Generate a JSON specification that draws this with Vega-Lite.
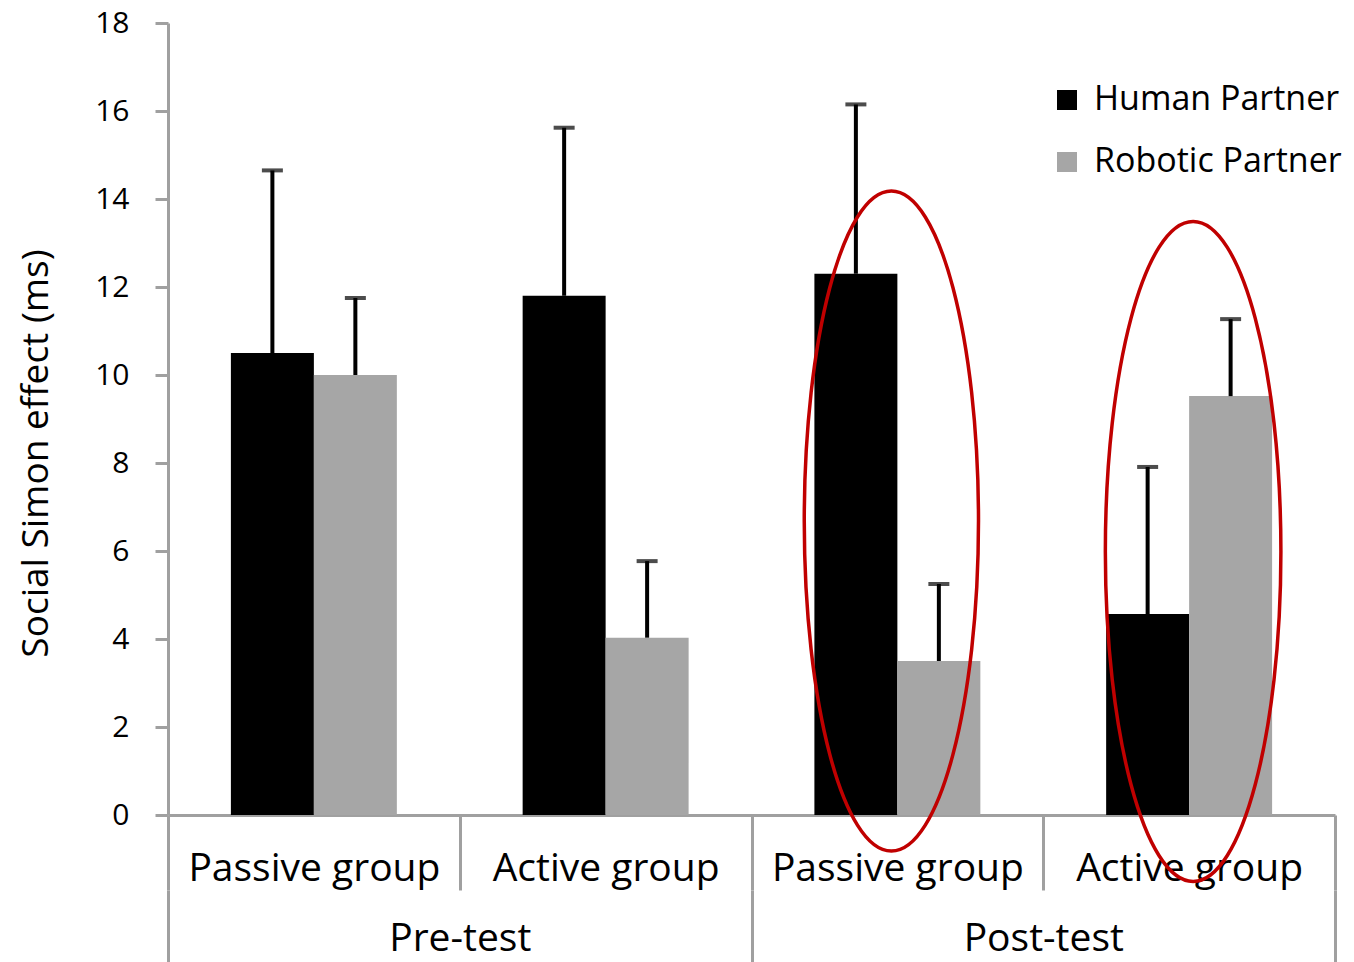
{
  "$schema": "https://vega.github.io/schema/vega-lite/v6.json",
  "width": 1167,
  "height": 792,
  "autosize": {"type": "none"},
  "padding": {"left": 168, "top": 23, "right": 19, "bottom": 147},
  "background": "white",
  "config": {
    "view": {"stroke": null},
    "font": "Open Sans"
  },
  "data": {
    "values": [
      {"phase": "Pre-test", "group": "Pre-test|Passive group", "partner": "Human Partner", "value": 10.5, "upper": 14.65},
      {"phase": "Pre-test", "group": "Pre-test|Passive group", "partner": "Robotic Partner", "value": 10.0, "upper": 11.75},
      {"phase": "Pre-test", "group": "Pre-test|Active group", "partner": "Human Partner", "value": 11.8, "upper": 15.62},
      {"phase": "Pre-test", "group": "Pre-test|Active group", "partner": "Robotic Partner", "value": 4.03, "upper": 5.77},
      {"phase": "Post-test", "group": "Post-test|Passive group", "partner": "Human Partner", "value": 12.3, "upper": 16.15},
      {"phase": "Post-test", "group": "Post-test|Passive group", "partner": "Robotic Partner", "value": 3.5, "upper": 5.25},
      {"phase": "Post-test", "group": "Post-test|Active group", "partner": "Human Partner", "value": 4.57, "upper": 7.91},
      {"phase": "Post-test", "group": "Post-test|Active group", "partner": "Robotic Partner", "value": 9.52, "upper": 11.27}
    ]
  },
  "layer": [
    {
      "layer": [
        {
          "mark": {"type": "bar"},
          "encoding": {
            "x": {
              "field": "group", "type": "nominal", "sort": null,
              "scale": {"paddingInner": 0, "paddingOuter": 0},
              "axis": {
                "orient": "bottom",
                "title": null,
                "labelExpr": "split(datum.label, '|')[1]",
                "labelAngle": 0,
                "labelFontSize": 39,
                "labelLimit": 0,
                "labelColor": "black",
                "labelBaseline": "alphabetic",
                "labelPadding": -10,
                "tickBand": "extent",
                "tickSize": 75,
                "tickColor": "#a0a0a0",
                "tickWidth": 3,
                "domainColor": "#a0a0a0",
                "domainWidth": 3,
                "grid": false
              }
            },
            "xOffset": {
              "field": "partner", "type": "nominal",
              "scale": {"paddingInner": 0, "paddingOuter": 0.758}
            },
            "y": {
              "field": "value", "type": "quantitative",
              "scale": {"domain": [0, 18], "nice": false},
              "axis": {
                "title": "Social Simon effect (ms)",
                "titleFontSize": 37,
                "titleFontWeight": "normal",
                "titleColor": "black",
                "titleX": -113,
                "titleY": 430,
                "titleBaseline": "bottom",
                "values": [0, 2, 4, 6, 8, 10, 12, 14, 16, 18],
                "labelFontSize": 30,
                "labelColor": "black",
                "labelPadding": 26,
                "tickSize": 13,
                "tickColor": "#a0a0a0",
                "tickWidth": 3,
                "domainColor": "#a0a0a0",
                "domainWidth": 3,
                "grid": false
              }
            },
            "color": {
              "field": "partner", "type": "nominal",
              "scale": {"domain": ["Human Partner", "Robotic Partner"], "range": ["#000000", "#a6a6a6"]},
              "legend": {
                "title": null,
                "orient": "none",
                "legendX": 882,
                "legendY": 60,
                "symbolType": "square",
                "symbolSize": 400,
                "symbolStrokeWidth": 0,
                "labelFontSize": 34,
                "labelLimit": 0,
                "labelColor": "black",
                "labelOffset": 10,
                "rowPadding": 28
              }
            }
          }
        },
        {
          "mark": {"type": "rule", "color": "black", "strokeWidth": 4},
          "encoding": {
            "x": {"field": "group", "type": "nominal", "sort": null},
            "xOffset": {"field": "partner", "type": "nominal"},
            "y": {"field": "value", "type": "quantitative"},
            "y2": {"field": "upper"}
          }
        },
        {
          "mark": {"type": "tick", "color": "black", "thickness": 4, "size": 21, "orient": "horizontal"},
          "encoding": {
            "x": {"field": "group", "type": "nominal", "sort": null},
            "xOffset": {"field": "partner", "type": "nominal"},
            "y": {"field": "upper", "type": "quantitative"}
          }
        },
        {
          "data": {
            "values": [
              {"group": "Post-test|Passive group", "center": 6.68}
            ]
          },
          "mark": {
            "type": "point",
            "shape": "M 0 -1 A 0.264 1 0 1 1 0 1 A 0.264 1 0 1 1 0 -1 Z",
            "size": 435600,
            "filled": false,
            "stroke": "#c00000",
            "strokeWidth": 3.5,
            "opacity": 1,
            "xOffset": -6
          },
          "encoding": {
            "x": {"field": "group", "type": "nominal", "sort": null},
            "y": {"field": "center", "type": "quantitative"}
          }
        },
        {
          "data": {
            "values": [
              {"group": "Post-test|Active group", "center": 5.99}
            ]
          },
          "mark": {
            "type": "point",
            "shape": "M 0 -1 A 0.266 1 0 1 1 0 1 A 0.266 1 0 1 1 0 -1 Z",
            "size": 435600,
            "filled": false,
            "stroke": "#c00000",
            "strokeWidth": 3.5,
            "opacity": 1,
            "xOffset": 4
          },
          "encoding": {
            "x": {"field": "group", "type": "nominal", "sort": null},
            "y": {"field": "center", "type": "quantitative"}
          }
        }
      ]
    },
    {
      "mark": {"type": "text", "text": ""},
      "encoding": {
        "x": {
          "field": "phase", "type": "nominal", "sort": null,
          "scale": {"paddingInner": 0, "paddingOuter": 0},
          "axis": {
            "orient": "bottom",
            "title": null,
            "offset": 75,
            "domain": false,
            "labelAngle": 0,
            "labelFontSize": 39,
            "labelLimit": 0,
            "labelColor": "black",
            "labelBaseline": "alphabetic",
            "labelPadding": -12,
            "tickBand": "extent",
            "tickSize": 72,
            "tickColor": "#a0a0a0",
            "tickWidth": 3,
            "grid": false
          }
        }
      }
    }
  ],
  "resolve": {"scale": {"x": "independent"}, "axis": {"x": "independent"}}
}
